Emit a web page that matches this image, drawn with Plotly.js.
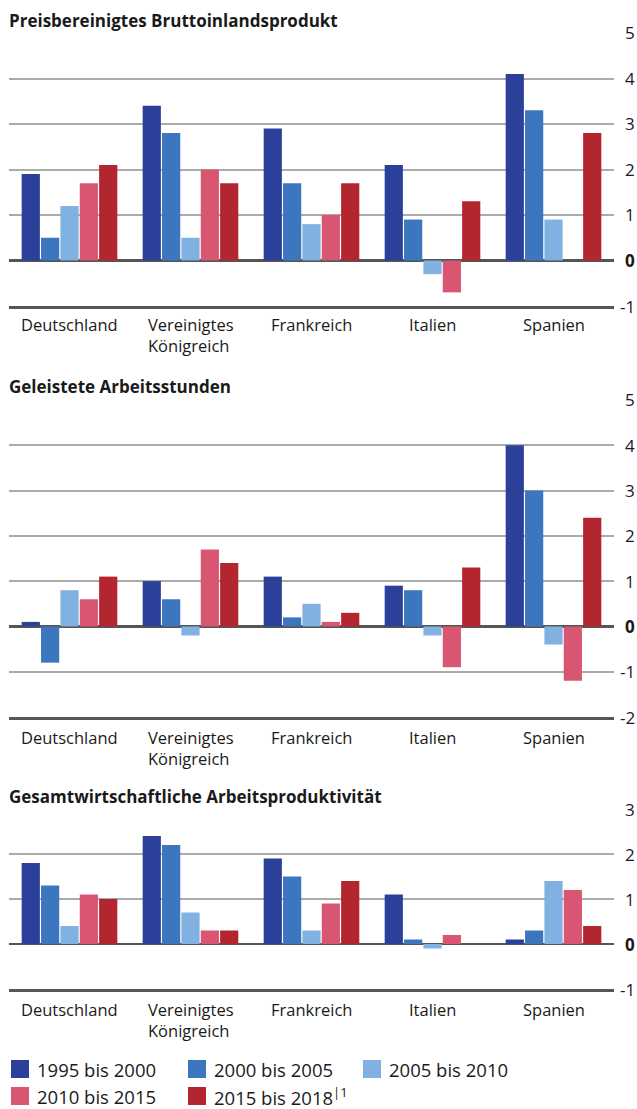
<!DOCTYPE html>
<html>
<head>
<meta charset="utf-8">
<script src="https://cdn.plot.ly/plotly-3.0.1.min.js"></script>
<style>
  html, body { margin: 0; padding: 0; background: #ffffff; }
  #chart { width: 637px; height: 1109px; }
</style>
</head>
<body>
<div id="chart"></div>
<script>
// ---------- DATA ----------
const countries = ["Deutschland", "Vereinigtes<br>Königreich", "Frankreich", "Italien", "Spanien"];
const seriesNames = ["1995 bis 2000", "2000 bis 2005", "2005 bis 2010", "2010 bis 2015", "2015 bis 2018<sup>|1</sup>"];
const panelTitles = ["Preisbereinigtes Bruttoinlandsprodukt", "Geleistete Arbeitsstunden", "Gesamtwirtschaftliche Arbeitsproduktivität"];

// Panel 1: Preisbereinigtes Bruttoinlandsprodukt
const bip_1995_2000 = [1.9, 3.4, 2.9, 2.1, 4.1];
const bip_2000_2005 = [0.5, 2.8, 1.7, 0.9, 3.3];
const bip_2005_2010 = [1.2, 0.5, 0.8, -0.3, 0.9];
const bip_2010_2015 = [1.7, 2.0, 1.0, -0.7, null];
const bip_2015_2018 = [2.1, 1.7, 1.7, 1.3, 2.8];

// Panel 2: Geleistete Arbeitsstunden
const std_1995_2000 = [0.1, 1.0, 1.1, 0.9, 4.0];
const std_2000_2005 = [-0.8, 0.6, 0.2, 0.8, 3.0];
const std_2005_2010 = [0.8, -0.2, 0.5, -0.2, -0.4];
const std_2010_2015 = [0.6, 1.7, 0.1, -0.9, -1.2];
const std_2015_2018 = [1.1, 1.4, 0.3, 1.3, 2.4];

// Panel 3: Gesamtwirtschaftliche Arbeitsproduktivität
const prod_1995_2000 = [1.8, 2.4, 1.9, 1.1, 0.1];
const prod_2000_2005 = [1.3, 2.2, 1.5, 0.1, 0.3];
const prod_2005_2010 = [0.4, 0.7, 0.3, -0.1, 1.4];
const prod_2010_2015 = [1.1, 0.3, 0.9, 0.2, 1.2];
const prod_2015_2018 = [1.0, 0.3, 1.4, null, 0.4];

// Axis ticks
const ticks1 = [-1, 0, 1, 2, 3, 4, 5];
const ticks2 = [-2, -1, 0, 1, 2, 3, 4, 5];
const ticks3 = [-1, 0, 1, 2, 3];

// ---------- STYLE ----------
const colors = ["#2b4199", "#3c76bf", "#80b1e0", "#d95673", "#b3262f"];
const FONT = "Open Sans, Noto Sans, sans-serif";
const TXT = "#1a1a1a";
const W = 637, H = 1109;
const px = v => v / W;
const py = v => 1 - v / H;

const panels = [
  { series: [bip_1995_2000, bip_2000_2005, bip_2005_2010, bip_2010_2015, bip_2015_2018], ticks: ticks1, top: 33, bottom: 306, titleY: 21, labelY: 323 },
  { series: [std_1995_2000, std_2000_2005, std_2005_2010, std_2010_2015, std_2015_2018], ticks: ticks2, top: 400, bottom: 717, titleY: 386, labelY: 736 },
  { series: [prod_1995_2000, prod_2000_2005, prod_2005_2010, prod_2010_2015, prod_2015_2018], ticks: ticks3, top: 809, bottom: 989, titleY: 797, labelY: 1008 }
];

const traces = [];
const annotations = [];
const shapes = [];
const layout = {
  width: W, height: H,
  margin: { l: 0, r: 0, t: 0, b: 0 },
  paper_bgcolor: "#ffffff",
  plot_bgcolor: "#ffffff",
  barmode: "group",
  bargap: 0.2,
  bargroupgap: 0.06,
  showlegend: false,
  font: { family: FONT, color: TXT },
  annotations: annotations,
  shapes: shapes
};

panels.forEach((p, i) => {
  const n = i === 0 ? "" : String(i + 1);
  const xa = "x" + n, ya = "y" + n;
  p.series.forEach((vals, s) => {
    traces.push({
      type: "bar",
      x: countries,
      y: vals,
      xaxis: xa, yaxis: ya,
      name: seriesNames[s],
      marker: { color: colors[s], line: { width: 0 } },
      hoverinfo: "x+y+name"
    });
  });
  layout["xaxis" + n] = {
    domain: [px(9), px(614)],
    anchor: ya,
    type: "category",
    showticklabels: false,
    ticks: "",
    showgrid: false,
    zeroline: false,
    showline: true,
    linecolor: "#555555",
    linewidth: 2.5,
    fixedrange: true
  };
  layout["yaxis" + n] = {
    domain: [py(p.bottom), py(p.top)],
    anchor: xa,
    side: "right",
    range: [p.ticks[0], p.ticks[p.ticks.length - 1]],
    tickvals: p.ticks,
    showticklabels: false,
    ticks: "",
    showgrid: true,
    gridcolor: "#ababab",
    gridwidth: 2,
    zeroline: true,
    zerolinecolor: "#555555",
    zerolinewidth: 2.5,
    showline: false,
    fixedrange: true
  };
  // panel title
  annotations.push({
    xref: "paper", yref: "paper",
    x: px(7), y: py(p.titleY),
    xanchor: "left", yanchor: "middle",
    text: "<b>" + panelTitles[i] + "</b>",
    showarrow: false,
    font: { family: FONT, size: 17, color: TXT }
  });
  // y tick labels (right aligned)
  p.ticks.forEach(t => {
    annotations.push({
      xref: "paper", yref: ya,
      x: px(637), y: t,
      xanchor: "right", yanchor: "middle",
      text: t === 0 ? "<b>0</b>" : String(t),
      showarrow: false,
      font: { family: FONT, size: 17, color: TXT }
    });
  });
  // category labels
  countries.forEach(c => {
    annotations.push({
      xref: xa, yref: "paper",
      x: c, y: py(p.labelY - 12),
      xanchor: "center", yanchor: "top",
      align: "left",
      text: c,
      showarrow: false,
      font: { family: FONT, size: 16.5, color: TXT }
    });
  });
});

// ---------- LEGEND (drawn from series names / colours) ----------
const legCols = [11, 188, 363];
const legRows = [1060, 1087];
const sq = 18;
seriesNames.forEach((name, s) => {
  const col = s % 3, row = Math.floor(s / 3);
  const x0 = legCols[col], y0 = legRows[row];
  shapes.push({
    type: "rect", xref: "paper", yref: "paper",
    x0: px(x0), x1: px(x0 + sq), y0: py(y0), y1: py(y0 + sq),
    fillcolor: colors[s], line: { width: 0 }
  });
  annotations.push({
    xref: "paper", yref: "paper",
    x: px(x0 + sq + 6), y: py(y0 + sq / 2),
    xanchor: "left", yanchor: "middle",
    text: name,
    showarrow: false,
    font: { family: FONT, size: 18.5, color: TXT }
  });
});

Plotly.newPlot("chart", traces, layout, { displayModeBar: false, staticPlot: true });
</script>
</body>
</html>
